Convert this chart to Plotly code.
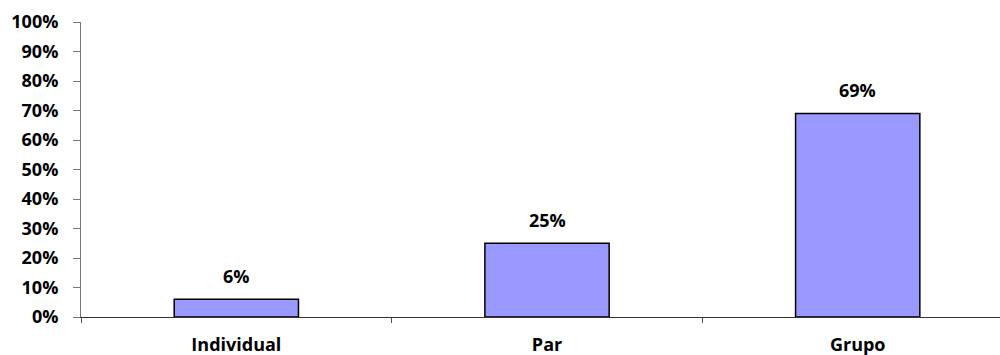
import plotly.graph_objects as go

categories = ["Individual", "Par", "Grupo"]
values = [6, 25, 69]
y_ticks = [0, 10, 20, 30, 40, 50, 60, 70, 80, 90, 100]
y_tick_labels = [f"{v}%" for v in y_ticks]
bar_labels = [f"{v}%" for v in values]

FONT = "Open Sans"
FS = 18

fig = go.Figure()
fig.add_trace(go.Bar(
    x=categories, y=values, width=0.4,
    marker=dict(color="#9999FF", line=dict(color="#000000", width=1.5)),
    hoverinfo="skip",
))

for c, v, t in zip(categories, values, bar_labels):
    fig.add_annotation(x=c, y=v, text=f"<b>{t}</b>", showarrow=False,
                       yanchor="middle", yshift=23,
                       font=dict(family=FONT, size=FS, color="#000"))

fig.update_layout(
    width=1000, height=355,
    margin=dict(l=81, r=0, t=22, b=37.5),
    plot_bgcolor="white", paper_bgcolor="white",
    showlegend=False,
    font=dict(family=FONT, size=FS, color="#000"),
)
fig.update_xaxes(
    type="category", range=[-0.5, 2.458], automargin=False,
    tickson="boundaries", ticks="outside", ticklen=5, tickcolor="#555555",
    showline=True, linecolor="#333333", linewidth=1,
    showgrid=False, zeroline=False,
    tickfont=dict(family=FONT, size=FS, color="#000", weight="bold"),
    ticklabelstandoff=11,
)
fig.update_yaxes(
    range=[0, 100], tickvals=y_ticks, ticktext=y_tick_labels, automargin=False,
    ticks="outside", ticklen=7, tickcolor="#777777",
    showline=True, linecolor="#777777", linewidth=1,
    showgrid=False, zeroline=False,
    tickfont=dict(family=FONT, size=FS, color="#000", weight="bold"),
    ticklabelstandoff=11,
)

fig.write_html("out.html")
